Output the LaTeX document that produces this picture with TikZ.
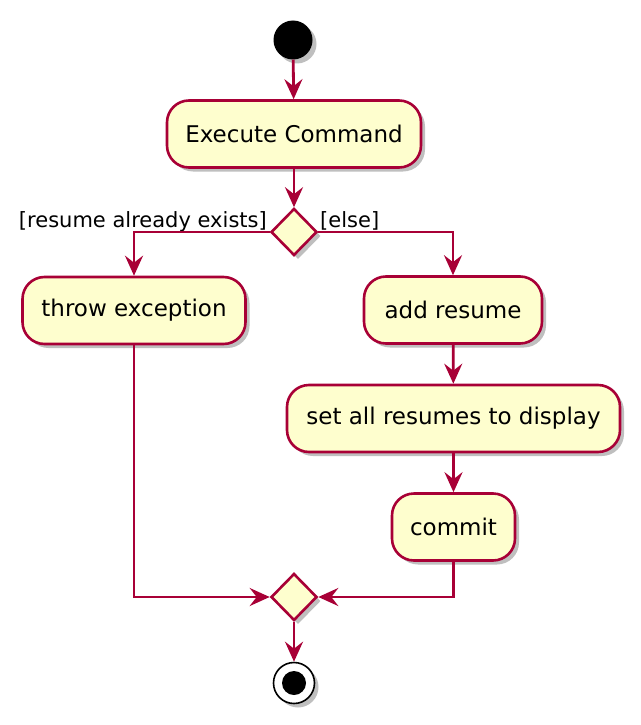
\documentclass[tikz,border=0pt]{standalone}
\usepackage{fontspec}
\setmainfont{DejaVu Sans}
\usetikzlibrary{positioning,arrows.meta,shapes.geometric,shadows}

\definecolor{actfill}{HTML}{FEFECE}
\definecolor{actline}{HTML}{A80036}

\begin{document}
\begin{tikzpicture}[x=1pt,y=-1pt]
        \tikzset{
          shade/.style={drop shadow={shadow xshift=4pt,shadow yshift=-4pt,fill=black,opacity=0.25}},
          action/.style={draw=actline,fill=actfill,line width=2.6pt,rounded corners=22pt,
            minimum height=67pt,inner sep=0pt,font=\fontsize{23}{27}\selectfont,shade},
          branch/.style={diamond,draw=actline,fill=actfill,line width=2.6pt,
            minimum width=46pt,minimum height=47pt,inner sep=0pt,shade},
          guard/.style={font=\fontsize{21}{25}\selectfont,inner sep=0pt},
          flow/.style={draw=actline,line width=2.8pt,
            -{Stealth[length=20pt,width=18pt,inset=7pt]}}
        }
        \useasboundingbox (0,0) rectangle (640,725);

        \node[circle,fill=black,minimum size=39pt,inner sep=0pt,shade] (start) at (293,40) {};
        \node[action,minimum width=254pt] (exec) at (294,134) {Execute Command};
        \node[branch] (split) at (294,232) {};
        \node[guard,anchor=base east] (yes) at (267,227) {[resume already exists]};
        \node[guard,anchor=base west] (no) at (320,227) {[else]};

        \node[action,minimum width=223pt] (throw) at (134,310.5) {throw exception};
        \node[action,minimum width=178pt] (add) at (453,310) {add resume};
        \node[action,minimum width=333pt] (setall) at (453.5,418.5) {set all resumes to display};
        \node[action,minimum width=123pt] (commit) at (453.5,527) {commit};

        \node[branch] (merge) at (294,597) {};
        \node[circle,draw=black,fill=white,line width=1.6pt,minimum size=41pt,inner sep=0pt,shade] (stop) at (294,683) {};
        \node[circle,fill=black,minimum size=24pt,inner sep=0pt] (stopdot) at (stop) {};

        \draw[flow] (start) -- (exec);
        \draw[flow] (exec) -- (split);
        \draw[flow] (split.west) -| (throw);
        \draw[flow] (split.east) -| (add);
        \draw[flow] (add) -- (setall);
        \draw[flow] (setall) -- (commit);
        \draw[flow] (throw) |- (merge);
        \draw[flow] (commit) |- (merge);
        \draw[flow] (merge) -- (stop);
      \end{tikzpicture}
\end{document}
